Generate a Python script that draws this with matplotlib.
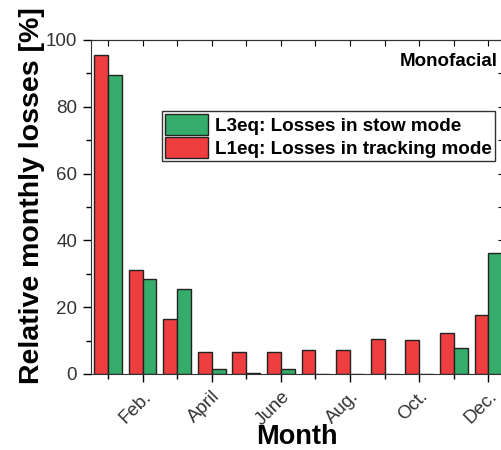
import numpy as np
import matplotlib.pyplot as plt
from matplotlib.ticker import MultipleLocator
from matplotlib.patches import Patch

plt.rcParams['font.family'] = ['Liberation Sans', 'DejaVu Sans']

# monthly losses [%]
months = np.arange(1, 13)
tick_months = [2, 4, 6, 8, 10, 12]
tick_labels = ['Feb.', 'April', 'June', 'Aug.', 'Oct.', 'Dec.']
l1eq_tracking = [95.5, 31.1, 16.6, 6.5, 6.5, 6.5, 7.2, 7.2, 10.4, 10.1, 12.4, 17.6]
l3eq_stow = [89.4, 28.5, 25.4, 1.6, 0.2, 1.6, 0.0, 0.0, 0.0, 0.0, 7.8, 36.3]

red = '#EF3E40'
green = '#36AC6A'

fig = plt.figure(figsize=(5.02, 4.5), dpi=100)
ax = fig.add_axes([91/502, 76/450, 413/502, 334/450])

w = 0.4
ax.bar(months - w/2, l1eq_tracking, width=w, color=red, edgecolor='#222222', linewidth=1.0)
ax.bar(months + w/2, l3eq_stow, width=w, color=green, edgecolor='#222222', linewidth=1.0)

ax.set_xlim(0.51, 12.45)
ax.set_ylim(0, 100)

ax.set_xticks(tick_months)
ax.set_xticklabels(tick_labels, rotation=45, ha='right', rotation_mode='anchor')
ax.xaxis.set_minor_locator(MultipleLocator(1))
ax.yaxis.set_major_locator(MultipleLocator(20))
ax.yaxis.set_minor_locator(MultipleLocator(10))

ax.tick_params(axis='both', which='major', labelsize=13.5, labelcolor='#333333', length=6, width=1, pad=4)
ax.tick_params(axis='both', which='minor', length=3.5, width=1)
ax.tick_params(axis='both', which='both', direction='out', top=False, right=False)
sec_x = ax.secondary_xaxis('top')
sec_x.set_xticks(months)
sec_x.tick_params(direction='in', length=4, labeltop=False)
sec_y = ax.secondary_yaxis('right')
sec_y.set_yticks(np.arange(0, 101, 10))
sec_y.tick_params(direction='in', length=4, labelright=False)

for s in ax.spines.values():
    s.set_color('#333333')

ax.set_xlabel('Month', fontsize=19.5, fontweight='bold')
ax.xaxis.set_label_coords(0.499, -0.150)
ax.set_ylabel('Relative monthly losses [%]', fontsize=20.5, fontweight='bold')
ax.yaxis.set_label_coords(-0.112, 0.535)

ax.text(0.985, 0.935, 'Monofacial', transform=ax.transAxes, ha='right', va='center',
        fontsize=13.5, fontweight='bold')

handles = [Patch(facecolor=green, edgecolor='#222222'), Patch(facecolor=red, edgecolor='#222222')]
leg = ax.legend(handles, ['L3eq: Losses in stow mode', 'L1eq: Losses in tracking mode'],
                loc='upper left', bbox_to_anchor=(0.172, 0.787),
                prop={'size': 13.6, 'weight': 'bold'}, frameon=True, fancybox=False,
                edgecolor='#333333', framealpha=1, handlelength=2.3, handleheight=1.3,
                labelspacing=0.15, handletextpad=0.35, borderpad=0.15, borderaxespad=0)
leg.get_frame().set_linewidth(1.0)

plt.savefig('out.png', dpi=100)
